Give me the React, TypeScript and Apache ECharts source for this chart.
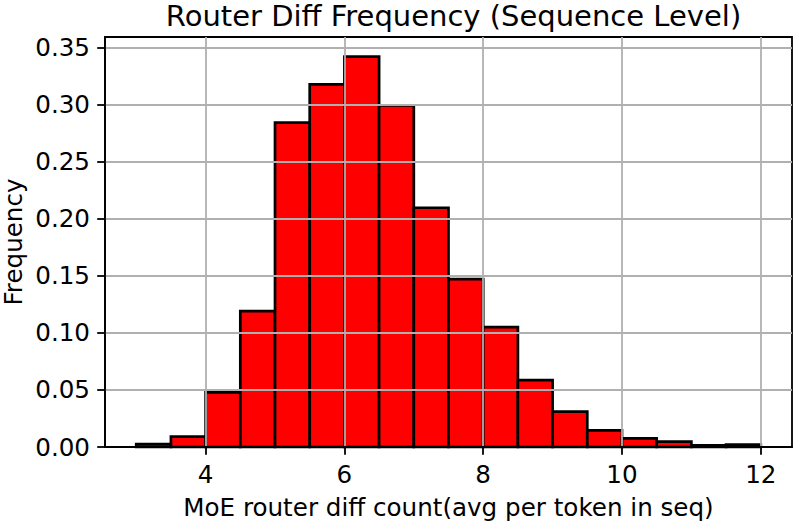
import React, { useEffect, useRef } from "react";
import * as echarts from "echarts";

const binEdges = [3.0, 3.5, 4.0, 4.5, 5.0, 5.5, 6.0, 6.5, 7.0, 7.5, 8.0, 8.5, 9.0, 9.5, 10.0, 10.5, 11.0, 11.5, 12.0];
const frequencies = [0.0025, 0.009, 0.0478, 0.119, 0.284, 0.3175, 0.3418, 0.299, 0.2095, 0.147, 0.105, 0.0585, 0.031, 0.0145, 0.0076, 0.0047, 0.0014, 0.0022];
const xTicks = [4, 6, 8, 10, 12];
const yTicks = [0, 0.05, 0.1, 0.15, 0.2, 0.25, 0.3, 0.35];

const titleText = "Router Diff Frequency (Sequence Level)";
const xLabel = "MoE router diff count(avg per token in seq)";
const yLabel = "Frequency";

export default function App() {
  const ref = useRef<HTMLDivElement>(null);
  useEffect(() => {
    if (!ref.current) return;
    const chart = echarts.init(ref.current, null, { renderer: "svg" });
    const data = frequencies.map((v, i) => [binEdges[i], binEdges[i + 1], v]);
    const font = "DejaVu Sans";
    const L = 105, T = 37, R = 1, B = 75;
    const W = 793, H = 522;
    chart.setOption({
      animation: false,
      backgroundColor: "#ffffff",
      grid: { left: L, top: T, right: R, bottom: B, show: true, borderColor: "#000", borderWidth: 1.8, backgroundColor: "transparent" },
      title: {
        text: titleText,
        left: (L + W - R) / 2,
        top: -4,
        textAlign: "center",
        textStyle: { fontFamily: font, fontSize: 29, fontWeight: "normal", color: "#000" },
      },
      xAxis: {
        type: "value",
        min: 2.55,
        max: 12.45,
        z: 5,
        axisLine: { show: true, onZero: false, lineStyle: { color: "#000", width: 1.8 } },
        axisTick: { show: true, length: 7.8, customValues: xTicks, lineStyle: { color: "#000", width: 1.8 } },
        axisLabel: { customValues: xTicks, margin: 15, fontFamily: font, fontSize: 24.6, color: "#000", formatter: (v: number) => String(v) },
        splitLine: { show: true, lineStyle: { color: "#b0b0b0", width: 1.8 } },
      },
      yAxis: {
        type: "value",
        min: 0,
        max: 0.359,
        z: 5,
        axisLine: { show: true, lineStyle: { color: "#000", width: 1.8 } },
        axisTick: { show: true, length: 7.8, customValues: yTicks, lineStyle: { color: "#000", width: 1.8 } },
        axisLabel: { customValues: yTicks, margin: 15, fontFamily: font, fontSize: 24.6, color: "#000", formatter: (v: number) => v.toFixed(2) },
        splitLine: { show: true, lineStyle: { color: "#b0b0b0", width: 1.8 } },
      },
      graphic: [
        { type: "text", x: 13.5, y: (T + H - B) / 2, rotation: Math.PI / 2, style: { text: yLabel, fontFamily: font, fontSize: 24.6, fill: "#000", textAlign: "center", textVerticalAlign: "middle" } },
        { type: "text", x: (L + W - R) / 2, y: 507.5, style: { text: xLabel, fontFamily: font, fontSize: 24.6, fill: "#000", textAlign: "center", textVerticalAlign: "middle" } },
      ],
      series: [
        {
          type: "custom",
          z: 2,
          data,
          encode: { x: [0, 1], y: 2 },
          renderItem: (params: any, api: any) => {
            const p0 = api.coord([api.value(0), api.value(2)]);
            const p1 = api.coord([api.value(1), 0]);
            return {
              type: "rect",
              shape: { x: p0[0], y: p0[1], width: p1[0] - p0[0], height: p1[1] - p0[1] },
              style: { fill: "#ff0000", stroke: "#000", lineWidth: 2.7 },
            };
          },
        },
      ],
    });
    return () => chart.dispose();
  }, []);
  return <div ref={ref} style={{ position: "fixed", left: 0, top: 0, width: 793, height: 522 }} />;
}
